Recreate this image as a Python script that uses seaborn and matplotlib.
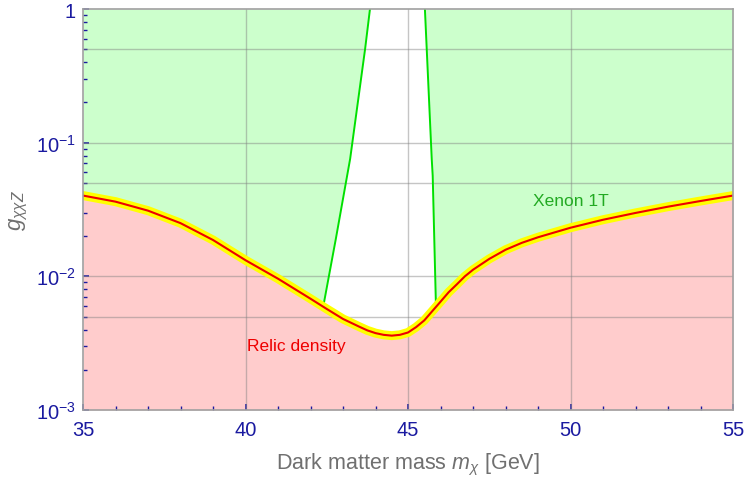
import numpy as np
import matplotlib
matplotlib.use("Agg")
import matplotlib.pyplot as plt
from matplotlib.ticker import FixedLocator, NullFormatter
import seaborn as sns

# Relic-density coupling versus dark matter mass
mass = [35, 36, 37, 38, 39, 40, 41, 42, 42.5, 43, 43.5, 43.75, 44, 44.25,
        44.5, 44.75, 45, 45.25, 45.5, 45.75, 46, 46.25, 46.5, 46.75, 47,
        47.5, 48, 48.5, 49, 50, 51, 52, 53, 54, 55]
g_relic = [0.0402, 0.0362, 0.0310, 0.0250, 0.0187, 0.0132, 0.0096, 0.0068,
           0.0057, 0.0048, 0.0042, 0.00394, 0.00376, 0.00365,
           0.00360, 0.00365, 0.00380, 0.00417, 0.00468, 0.0055, 0.00646,
           0.0076, 0.0087, 0.0100, 0.0112,
           0.0135, 0.0158, 0.0178, 0.0196, 0.0231, 0.0265, 0.0298, 0.0332,
           0.0366, 0.0402]

# Xenon 1T bound: the two edges of the allowed window near the Z pole
xenon_left_m = [42.39, 42.78, 43.22, 43.68, 43.83]
xenon_left_g = [0.0059, 0.0191, 0.0757, 0.502, 1.0]
xenon_right_m = [45.52, 45.73, 45.76, 45.86]
xenon_right_g = [1.0, 0.0757, 0.0565, 0.0060]

y_major = [1e-3, 1e-2, 1e-1, 1]
y_major_labels = [r"$10^{-3}$", r"$10^{-2}$", r"$10^{-1}$", "1"]
x_major = [35, 40, 45, 50, 55]
grid_x = [40, 45, 50]
grid_y = [0.5, 0.1, 0.05, 0.01, 0.005]

sns.set_style("white")
plt.rcParams["font.family"] = ["Liberation Sans", "DejaVu Sans"]
plt.rcParams["mathtext.fontset"] = "custom"
plt.rcParams["mathtext.rm"] = "Liberation Sans"
plt.rcParams["mathtext.it"] = "Liberation Sans:italic"
plt.rcParams["mathtext.bf"] = "Liberation Sans:bold"

tick_blue = "#1a1aa0"
label_gray = "#707070"

fig = plt.figure(figsize=(7.47, 4.81), dpi=100)
ax = fig.add_axes([83 / 747, 1 - 411 / 481, 650 / 747, 401 / 481])
ax.set_yscale("log")
ax.set_xlim(35, 55)
ax.set_ylim(1e-3, 1)

# Excluded regions: relic overabundance (below) and Xenon 1T (above)
ax.fill_between(mass, 1e-3, g_relic, color="#ffcccc", lw=0, zorder=0)
ax.fill_between(mass, g_relic, 1, color="#ccffcc", lw=0, zorder=0)

# Allowed window between the Xenon edges, above the relic curve
inner = [(m, g) for m, g in zip(mass, g_relic)
         if xenon_left_m[0] < m < xenon_right_m[-1]]
hole_m = xenon_left_m + xenon_right_m + [m for m, _ in inner[::-1]]
hole_g = xenon_left_g + xenon_right_g + [g for _, g in inner[::-1]]
ax.fill(hole_m, hole_g, color="white", lw=0, zorder=0.5)

for gx in grid_x:
    ax.axvline(gx, color="#808080", alpha=0.45, lw=1.0, zorder=1)
for gy in grid_y:
    ax.axhline(gy, color="#808080", alpha=0.45, lw=1.0, zorder=1)

sns.lineplot(x=xenon_left_m, y=xenon_left_g, ax=ax, color="#00e000",
             lw=1.4, sort=False, zorder=2)
sns.lineplot(x=xenon_right_m, y=xenon_right_g, ax=ax, color="#00e000",
             lw=1.4, sort=False, zorder=2)
sns.lineplot(x=mass, y=g_relic, ax=ax, color="#ffff00", lw=6.5, zorder=3)
sns.lineplot(x=mass, y=g_relic, ax=ax, color="#ee0000", lw=1.5, zorder=4)

ax.text(50.0, 0.037, "Xenon 1T", color="#22aa22", fontsize=12.5,
        ha="center", va="center")
ax.text(41.55, 0.00303, "Relic density", color="#ee0000", fontsize=12.5,
        ha="center", va="center")

# Axes, ticks and labels
ax.xaxis.set_major_locator(FixedLocator(x_major))
ax.xaxis.set_minor_locator(FixedLocator(range(35, 56)))
ax.set_xticklabels([str(v) for v in x_major])
ax.yaxis.set_major_locator(FixedLocator(y_major))
ax.set_yticklabels(y_major_labels)
minor_y = [k * 10.0 ** e for e in (-3, -2, -1) for k in range(2, 10)]
ax.yaxis.set_minor_locator(FixedLocator(minor_y))
ax.yaxis.set_minor_formatter(NullFormatter())

ax.tick_params(axis="both", which="both", direction="in", colors=tick_blue,
               labelcolor=tick_blue, labelsize=14.5, bottom=True, left=True,
               top=False, right=False)
ax.tick_params(axis="both", which="major", length=4, width=1.1, pad=5)
ax.tick_params(axis="x", which="major", pad=7)
ax.tick_params(axis="both", which="minor", length=3, width=1.0)

for sp in ax.spines.values():
    sp.set_color("#a0a0a0")
    sp.set_linewidth(1.2)
    sp.set_zorder(5)

ax.set_xlabel(r"Dark matter mass $m_\chi$ [GeV]", color=label_gray,
              fontsize=15.5, labelpad=9)
ax.set_ylabel(r"$g_{\chi\chi Z}$", color=label_gray, fontsize=16,
              labelpad=4)

fig.savefig("out.png", dpi=100)
